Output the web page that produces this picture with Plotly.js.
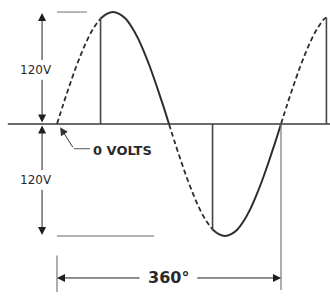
<!DOCTYPE html>
<html><head><meta charset="utf-8">
<script src="https://cdn.plot.ly/plotly-3.0.1.min.js"></script>
<style>html,body{margin:0;padding:0;background:#fff}#c{width:330px;height:297px}</style>
</head><body><div id="c"></div>
<script>
// Phase angle (degrees) and instantaneous voltage
const dash1Deg = [0, 10, 20, 30, 40, 50, 60, 70];
const dash1V   = [0, 21, 41, 60, 77, 92, 104, 113];
const solid1Deg = [70, 80, 90, 100, 110, 120, 130, 140, 150, 160, 170, 180];
const solid1V   = [113, 118, 120, 118, 113, 104, 92, 77, 60, 41, 21, 0];
const dash2Deg = [180, 190, 200, 210, 220, 230, 240, 250];
const dash2V   = [0, -21, -41, -60, -77, -92, -104, -113];
const solid2Deg = [250, 260, 270, 280, 290, 300, 310, 320, 330, 340, 350, 360];
const solid2V   = [-113, -118, -120, -118, -113, -104, -92, -77, -60, -41, -21, 0];
const dash3Deg = [360, 370, 380, 390, 400, 410, 420, 430, 433];
const dash3V   = [0, 21, 41, 60, 77, 92, 104, 113, 114];
const fireDeg = [70, 250, 433];
const fireV   = [113, -113, 114];
const peakV = 120;
const periodDeg = 360;
const labelPeak = "120V";
const labelZero = "0 VOLTS";
const labelPeriod = "360°";

const waveColor = '#2e2e2e';
const traces = [];
function addLine(x, y, dash, w, c) {
  traces.push({x: x, y: y, type: 'scatter', mode: 'lines',
    line: {color: c || waveColor, width: w, dash: dash, shape: 'spline', smoothing: 1},
    hoverinfo: 'skip', showlegend: false});
}
addLine(dash1Deg, dash1V, '5px,3px', 1.8);
addLine(solid1Deg, solid1V, 'solid', 2);
addLine(dash2Deg, dash2V, '5px,3px', 1.8);
addLine(solid2Deg, solid2V, 'solid', 2);
addLine(dash3Deg, dash3V, '5px,3px', 1.8);
fireDeg.forEach((d, i) => addLine([d, d], [0, fireV[i]], 'solid', 1.6, '#444'));

const dimX = -24;
const gray = '#777';
const shapes = [
  // zero line
  {type: 'line', xref: 'x', yref: 'y', x0: -79, x1: 440, y0: 0, y1: 0, line: {color: '#3a3a3a', width: 1.6}},
  // peak reference ticks
  {type: 'line', xref: 'x', yref: 'y', x0: 0, x1: 48, y0: peakV, y1: peakV, line: {color: '#999', width: 1.4}},
  {type: 'line', xref: 'x', yref: 'y', x0: 0, x1: 156, y0: -peakV, y1: -peakV, line: {color: '#999', width: 1.4}},
  // extension lines for the period dimension
  {type: 'line', xref: 'x', yref: 'y', x0: 0, x1: 0, y0: -141, y1: -180, line: {color: gray, width: 1.2}},
  {type: 'line', xref: 'x', yref: 'y', x0: periodDeg, x1: periodDeg, y0: 0, y1: -178, line: {color: gray, width: 1.2}},
  // leader horizontal for 0 VOLTS
  {type: 'line', xref: 'x', yref: 'y', x0: 27, x1: 53, y0: -26.5, y1: -26.5, line: {color: '#555', width: 1}}
];

const ah = {showarrow: true, arrowhead: 2, arrowsize: 1.6, arrowwidth: 1, arrowcolor: '#1e1e1e',
  xref: 'x', yref: 'y', axref: 'x', ayref: 'y', text: '', standoff: 0, startstandoff: 0};
const annotations = [
  Object.assign({}, ah, {x: dimX, y: peakV - 1, ax: dimX, ay: 67}),
  Object.assign({}, ah, {x: dimX, y: 1.5, ax: dimX, ay: 49}),
  Object.assign({}, ah, {x: dimX, y: -1.5, ax: dimX, ay: -51}),
  Object.assign({}, ah, {x: dimX, y: -peakV + 1, ax: dimX, ay: -69}),
  Object.assign({}, ah, {x: 0, y: -165, ax: 135, ay: -165}),
  Object.assign({}, ah, {x: periodDeg, y: -165, ax: 223, ay: -165}),
  Object.assign({}, ah, {x: 5, y: -3.5, ax: 27, ay: -26.5, arrowcolor: '#333'}),
  {x: dimX - 10, y: 58, xref: 'x', yref: 'y', text: labelPeak, showarrow: false,
   font: {family: 'DejaVu Sans', size: 12, color: '#2a2a2a'}},
  {x: dimX - 10, y: -60, xref: 'x', yref: 'y', text: labelPeak, showarrow: false,
   font: {family: 'DejaVu Sans', size: 12, color: '#2a2a2a'}},
  {x: 55, y: -28, xref: 'x', yref: 'y', text: '<b>' + labelZero + '</b>', showarrow: false, xanchor: 'left',
   font: {family: 'DejaVu Sans', size: 13, color: '#2a2a2a'}},
  {x: 179, y: -165, xref: 'x', yref: 'y', text: '<b>' + labelPeriod + '</b>', showarrow: false,
   font: {family: 'DejaVu Sans', size: 16, color: '#2a2a2a'}}
];

const layout = {
  width: 330, height: 297,
  margin: {l: 0, r: 0, t: 0, b: 0},
  paper_bgcolor: '#fff', plot_bgcolor: '#fff',
  xaxis: {range: [-91.6, 438.75], visible: false, fixedrange: true},
  yaxis: {range: [-185.4, 132.9], visible: false, fixedrange: true},
  shapes: shapes, annotations: annotations, showlegend: false
};
Plotly.newPlot('c', traces, layout, {staticPlot: true, displayModeBar: false});
</script></body></html>
